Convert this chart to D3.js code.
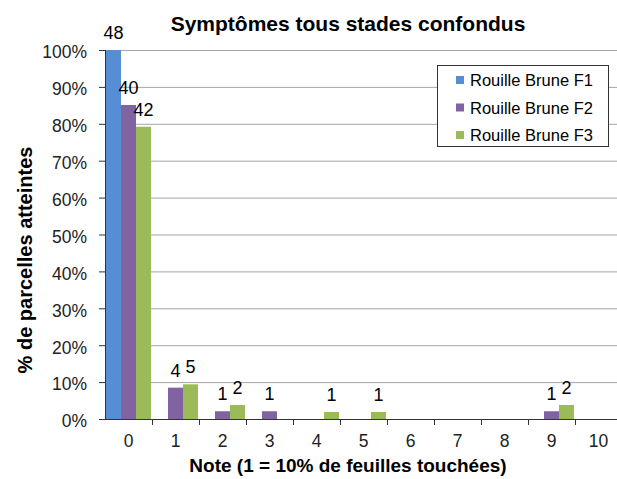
<!DOCTYPE html>
<html>
<head>
<meta charset="utf-8">
<title>Symptômes tous stades confondus</title>
<script src="https://cdn.jsdelivr.net/npm/d3@7"></script>
<style>
  body { margin: 0; background: #fff; }
  svg { display: block; font-family: "Liberation Sans", Arial, sans-serif; }
</style>
</head>
<body>
<script>
// categories (note) and series
var notes = ["0", "1", "2", "3", "4", "5", "6", "7", "8", "9", "10"];
var seriesNames = ["Rouille Brune F1", "Rouille Brune F2", "Rouille Brune F3"];
var colors = ["#558ed5", "#8064a2", "#9bbb59"];
// % of plots
var pctF1 = [100, 0, 0, 0, 0, 0, 0, 0, 0, 0, 0];
var pctF2 = [85.1, 8.5, 2.1, 2.1, 0, 0, 0, 0, 0, 2.1, 0];
var pctF3 = [79.2, 9.4, 3.8, 0, 1.9, 1.9, 0, 0, 0, 3.8, 0];
// counts shown as labels
var nbF1 = [48, 0, 0, 0, 0, 0, 0, 0, 0, 0, 0];
var nbF2 = [40, 4, 1, 1, 0, 0, 0, 0, 0, 1, 0];
var nbF3 = [42, 5, 2, 0, 1, 1, 0, 0, 0, 2, 0];
var yTicks = [0, 10, 20, 30, 40, 50, 60, 70, 80, 90, 100];

var w = 617, h = 479;
// plot area (runs a little past the right edge, like the original)
var pLeft = 105, pRight = 622, pTop = 50, pBottom = 419;

var svg = d3.select("body").append("svg")
    .attr("width", w)
    .attr("height", h);

var x = d3.scaleBand().domain(notes).range([pLeft, pRight]);
var xs = d3.scaleBand().domain([0, 1, 2]).range([1, x.bandwidth() - 1]);
var y = d3.scaleLinear().domain([0, 100]).range([pBottom, pTop]);

// gridlines
svg.append("g").selectAll("line")
    .data(yTicks.slice(1))
    .enter().append("line")
    .attr("x1", pLeft).attr("x2", pRight)
    .attr("y1", function(d) { return y(d) + 0.5; })
    .attr("y2", function(d) { return y(d) + 0.5; })
    .attr("stroke", "#a6a6a6");

// bars
var pcts = [pctF1, pctF2, pctF3];
var nbs = [nbF1, nbF2, nbF3];
var rows = [];
pcts.forEach(function(arr, s) {
    arr.forEach(function(v, i) {
        rows.push({s: s, note: notes[i], v: v, n: nbs[s][i]});
    });
});

svg.append("g").selectAll("rect")
    .data(rows.filter(function(d) { return d.v > 0; }))
    .enter().append("rect")
    .attr("x", function(d) { return x(d.note) + xs(d.s); })
    .attr("width", xs.bandwidth())
    .attr("y", function(d) { return y(d.v); })
    .attr("height", function(d) { return y(0) - y(d.v); })
    .attr("fill", function(d) { return colors[d.s]; });

// count labels
svg.append("g").selectAll("text")
    .data(rows.filter(function(d) { return d.n > 0; }))
    .enter().append("text")
    .text(function(d) { return d.n; })
    .attr("x", function(d) { return x(d.note) + xs(d.s) + xs.bandwidth() / 2; })
    .attr("y", function(d) { return y(d.v) - 11; })
    .attr("text-anchor", "middle")
    .attr("font-size", "18px")
    .attr("fill", "#000");

// y axis
var yAxis = svg.append("g")
    .attr("transform", "translate(" + pLeft + ",0)")
    .call(d3.axisLeft(y).tickValues(yTicks).tickSize(6).tickPadding(12)
        .tickFormat(function(d) { return d + "%"; }));
yAxis.select(".domain").attr("stroke", "#333").attr("d", "M0.5," + pTop + "V" + pBottom);
yAxis.selectAll(".tick line").attr("stroke", "#333");
yAxis.selectAll("text").attr("font-size", "17.5px").attr("fill", "#222")
    .attr("dy", "0.45em")
    .attr("font-family", "Liberation Sans, Arial, sans-serif");

// x axis
var xAxis = svg.append("g")
    .attr("transform", "translate(0," + pBottom + ")")
    .call(d3.axisBottom(x).tickSize(0).tickPadding(16));
xAxis.select(".domain").attr("stroke", "#333").attr("d", "M" + pLeft + ",0.5H" + pRight);
xAxis.selectAll("text").attr("font-size", "17.5px").attr("fill", "#222")
    .attr("font-family", "Liberation Sans, Arial, sans-serif");
// ticks between categories
xAxis.append("g").selectAll("line")
    .data(notes.slice(1))
    .enter().append("line")
    .attr("x1", function(d) { return Math.round(x(d)) + 0.5; })
    .attr("x2", function(d) { return Math.round(x(d)) + 0.5; })
    .attr("y1", 0).attr("y2", 6)
    .attr("stroke", "#333");

// titles
svg.append("text")
    .text("Symptômes tous stades confondus")
    .attr("x", 348).attr("y", 31)
    .attr("text-anchor", "middle")
    .attr("font-size", "21px")
    .attr("font-weight", "bold");

svg.append("text")
    .text("Note (1 = 10% de feuilles touchées)")
    .attr("x", 348).attr("y", 472)
    .attr("text-anchor", "middle")
    .attr("font-size", "19px")
    .attr("font-weight", "bold");

svg.append("text")
    .text("% de parcelles atteintes")
    .attr("transform", "translate(32,260) rotate(-90)")
    .attr("text-anchor", "middle")
    .attr("font-size", "20px")
    .attr("font-weight", "bold");

// legend
var legend = svg.append("g").attr("transform", "translate(437,65)");
legend.append("rect")
    .attr("x", 0.5).attr("y", 0.5)
    .attr("width", 171).attr("height", 81)
    .attr("fill", "#fff")
    .attr("stroke", "#333");
var items = legend.selectAll("g.item")
    .data(seriesNames)
    .enter().append("g")
    .attr("class", "item")
    .attr("transform", function(d, i) { return "translate(0," + (15 + i * 27.5) + ")"; });
items.append("rect")
    .attr("x", 19).attr("y", -4)
    .attr("width", 8).attr("height", 8)
    .attr("fill", function(d, i) { return colors[i]; });
items.append("text")
    .text(function(d) { return d; })
    .attr("x", 33).attr("y", 6)
    .attr("font-size", "16.5px");
</script>
</body>
</html>
